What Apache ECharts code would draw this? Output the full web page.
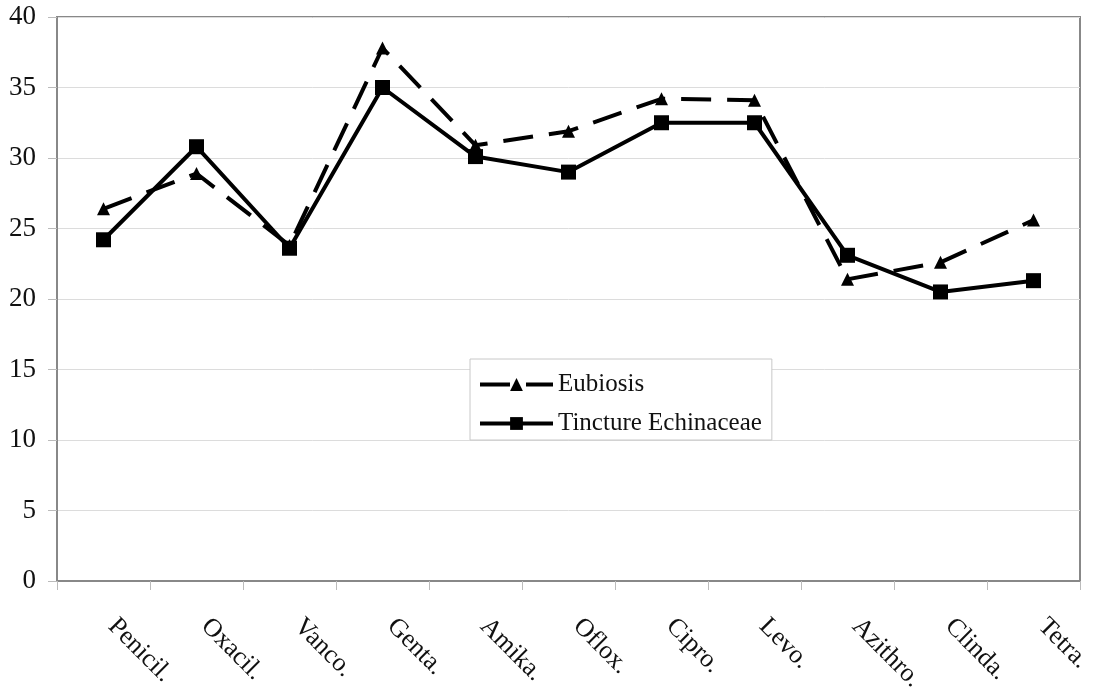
<!DOCTYPE html>
<html>
<head>
<meta charset="utf-8">
<script src="https://cdn.jsdelivr.net/npm/echarts@6/dist/echarts.min.js"></script>
<style>
  html, body { margin: 0; padding: 0; background: #fff; }
  #chart { width: 1096px; height: 690px; }
</style>
</head>
<body>
<div id="chart"></div>
<script>
const categories = ['Penicil.', 'Oxacil.', 'Vanco.', 'Genta.', 'Amika.', 'Oflox.', 'Cipro.', 'Levo.', 'Azithro.', 'Clinda.', 'Tetra.']
const eubiosis = [26.4, 28.9, 23.8, 37.8, 30.9, 31.9, 34.2, 34.1, 21.4, 22.6, 25.6]
const tincture = [24.2, 30.8, 23.6, 35.0, 30.1, 29.0, 32.5, 32.5, 23.1, 20.5, 21.3]

const FONT = '"Liberation Serif", "DejaVu Serif", serif'
const DASH = [30, 16]

const chart = echarts.init(document.getElementById('chart'))

chart.setOption({
  animation: false,
  backgroundColor: '#fff',
  grid: {
    left: 57, right: 16, top: 17, bottom: 109,
    outerBoundsMode: 'none',
    containLabel: false,
    show: true, borderColor: '#888', borderWidth: 2
  },
  legend: {
    orient: 'vertical',
    left: 470, top: 359,
    padding: [13, 10, 4, 8],
    itemGap: 14,
    itemWidth: 73, itemHeight: 16,
    backgroundColor: '#fff',
    borderColor: '#c8c8c8', borderWidth: 1,
    textStyle: { fontFamily: FONT, fontSize: 25, color: '#111' },
    data: [
      { name: 'Eubiosis', lineStyle: { width: 4, type: DASH } },
      { name: 'Tincture Echinaceae', lineStyle: { width: 4 } }
    ]
  },
  xAxis: {
    type: 'category',
    data: categories,
    boundaryGap: true,
    axisLine: { show: true, lineStyle: { color: '#888', width: 2 } },
    axisTick: { show: true, length: 9, lineStyle: { color: '#bbb', width: 1 } },
    axisLabel: {
      rotate: -45, margin: 33, interval: 0,
      padding: [0, 0, 0, 12],
      fontFamily: FONT, fontSize: 26, color: '#111'
    },
    splitLine: { show: false }
  },
  yAxis: {
    type: 'value',
    min: 0, max: 40, interval: 5,
    axisLine: { show: true, lineStyle: { color: '#888', width: 2 } },
    axisTick: { show: true, length: 9, lineStyle: { color: '#bbb', width: 1 } },
    axisLabel: { margin: 21, fontFamily: FONT, fontSize: 27, color: '#111' },
    splitLine: { lineStyle: { color: '#dcdcdc', width: 1 } }
  },
  series: [
    {
      name: 'Eubiosis',
      type: 'line',
      data: eubiosis,
      symbol: 'triangle',
      symbolSize: 13,
      color: '#000',
      itemStyle: { color: '#000' },
      lineStyle: { color: '#000', width: 4, type: DASH },
      z: 2
    },
    {
      name: 'Tincture Echinaceae',
      type: 'line',
      data: tincture,
      symbol: 'rect',
      symbolSize: 15,
      color: '#000',
      itemStyle: { color: '#000' },
      lineStyle: { color: '#000', width: 4 },
      z: 3
    }
  ]
})
</script>
</body>
</html>
